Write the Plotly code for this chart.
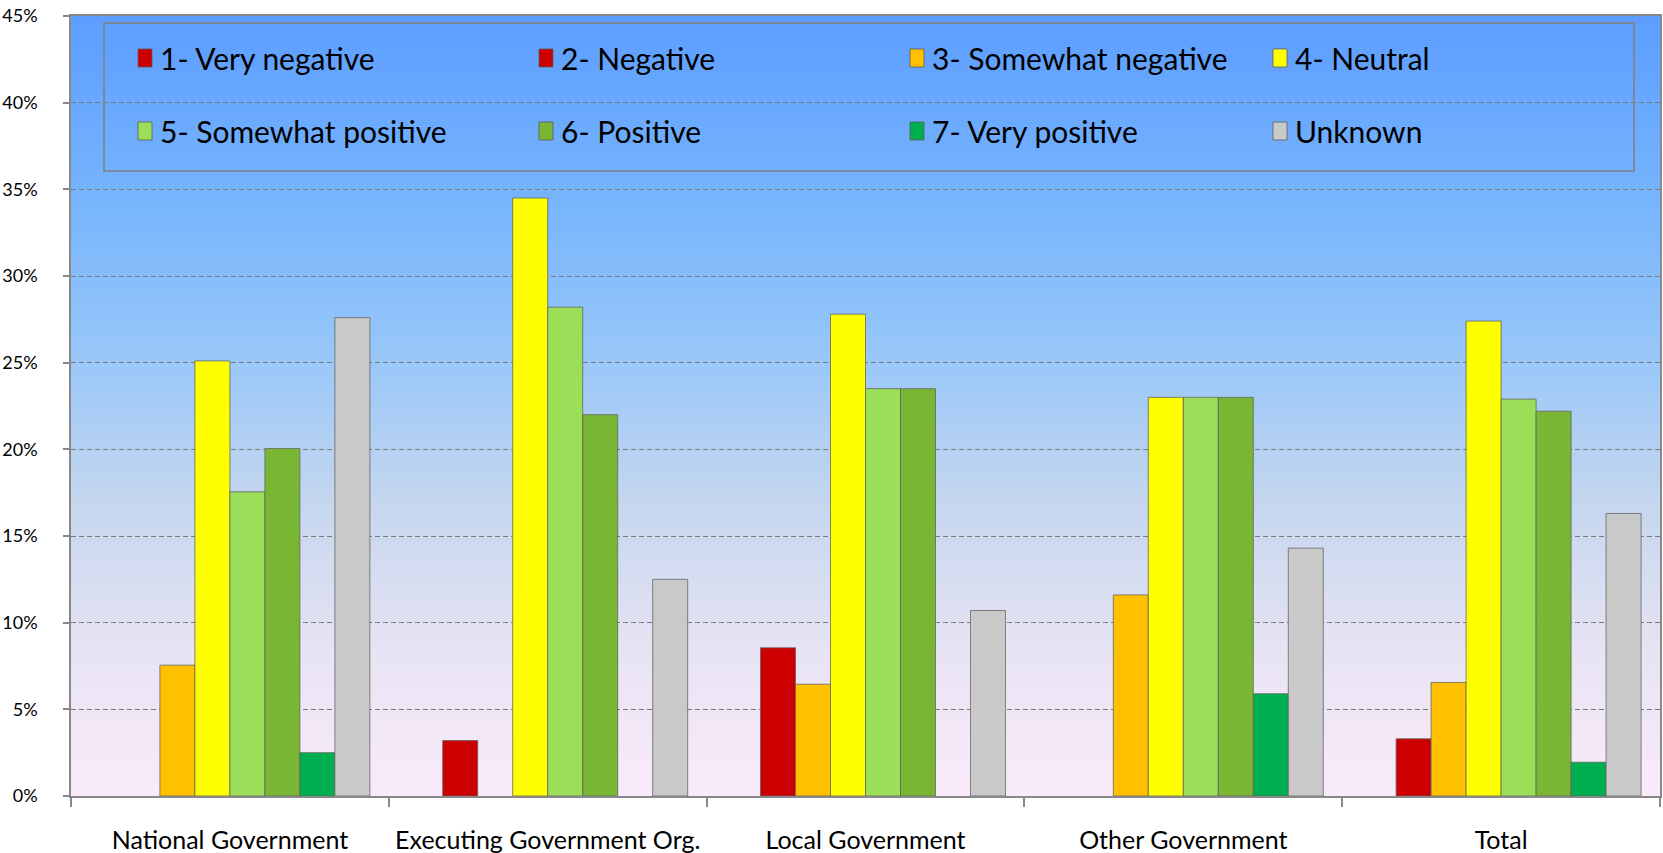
import plotly.graph_objects as go

# ---------------- data ----------------
categories = ["National Government", "Executing Government Org.", "Local Government",
              "Other Government", "Total"]
series_names = ["1- Very negative", "2- Negative", "3- Somewhat negative", "4- Neutral",
                "5- Somewhat positive", "6- Positive", "7- Very positive", "Unknown"]
very_negative = [0, 0, 0, 0, 0]
negative = [0, 3.2, 8.55, 0, 3.3]
somewhat_negative = [7.55, 0, 6.45, 11.6, 6.55]
neutral = [25.1, 34.5, 27.8, 23.0, 27.4]
somewhat_positive = [17.55, 28.2, 23.5, 23.0, 22.9]
positive = [20.05, 22.0, 23.5, 23.0, 22.2]
very_positive = [2.5, 0, 0, 5.9, 1.95]
unknown = [27.6, 12.5, 10.7, 14.3, 16.3]
series_values = [very_negative, negative, somewhat_negative, neutral,
                 somewhat_positive, positive, very_positive, unknown]
tick_values = [0, 0.05, 0.10, 0.15, 0.20, 0.25, 0.30, 0.35, 0.40, 0.45]

# ---------------- style ----------------
colors = ["#CC0000", "#CC0000", "#FFC000", "#FFFF00", "#9BDE57", "#79B634", "#00B050", "#C9C9C9"]
FONT = "Lato, Calibri, Arial, sans-serif"
W, H = 1663, 853
ML, MR, MT, MB = 71, 3, 16, 57
PW = W - ML - MR
PH = H - MT - MB


def px_x(px):
    return (px - ML) / PW


def px_y(py):
    return (H - MB - py) / PH


fig = go.Figure()
for name, vals, col in zip(series_names, series_values, colors):
    fig.add_trace(go.Bar(
        name=name,
        x=categories,
        y=[v / 100 if v else None for v in vals],
        marker=dict(color=col, line=dict(color="rgba(95,95,95,0.75)", width=1)),
        showlegend=False,
        hovertemplate="%{x}<br>" + name + ": %{y:.1%}<extra></extra>",
    ))

shapes = []
# gradient plot background
stops = [(0.0, (250, 234, 250)), (0.18, (232, 228, 244)), (0.38, (196, 214, 238)),
         (0.55, (155, 200, 248)), (0.75, (120, 182, 253)), (1.0, (92, 157, 255))]


def interp(t):
    for (t0, c0), (t1, c1) in zip(stops[:-1], stops[1:]):
        if t0 <= t <= t1:
            f = (t - t0) / (t1 - t0)
            return tuple(round(a + (b - a) * f) for a, b in zip(c0, c1))
    return stops[-1][1]


N = 156
for i in range(N):
    y0 = i / N
    y1 = (i + 1) / N
    c = interp((y0 + y1) / 2)
    shapes.append(dict(type="rect", xref="paper", yref="paper", x0=0, x1=1, y0=y0, y1=min(1, y1 + 0.002),
                       fillcolor="rgb(%d,%d,%d)" % c, line=dict(width=0), layer="below"))

# legend box
shapes.append(dict(type="rect", xref="paper", yref="paper",
                   x0=px_x(104), x1=px_x(1634), y0=px_y(171), y1=px_y(23),
                   line=dict(color="#7F7F7F", width=1.5), fillcolor="rgba(0,0,0,0)", layer="above"))

annotations = []
col_left = [138, 539, 910, 1273]
row_center = [58, 131]
for i, (name, col) in enumerate(zip(series_names, colors)):
    r, c = divmod(i, 4)
    lx = col_left[c]
    cy = row_center[r]
    shapes.append(dict(type="rect", xref="paper", yref="paper",
                       x0=px_x(lx), x1=px_x(lx + 14), y0=px_y(cy + 9), y1=px_y(cy - 9),
                       fillcolor=col, line=dict(color="rgba(90,90,90,0.8)", width=1), layer="above"))
    annotations.append(dict(xref="paper", yref="paper", x=px_x(lx + 20), y=px_y(cy),
                            xanchor="left", yanchor="middle", text=name, showarrow=False,
                            font=dict(family=FONT, size=30, color="#000000")))

fig.update_layout(
    width=W, height=H,
    margin=dict(l=ML, r=MR, t=MT, b=MB, pad=0, autoexpand=False),
    paper_bgcolor="white",
    plot_bgcolor="rgba(0,0,0,0)",
    barmode="group",
    bargap=0.119,
    bargroupgap=0,
    showlegend=False,
    shapes=shapes,
    annotations=annotations,
    font=dict(family=FONT, color="#000000"),
    xaxis=dict(
        showline=True, linecolor="#888888", linewidth=1.5, mirror=True,
        ticks="outside", tickson="boundaries", ticklen=9, tickcolor="#888888", tickwidth=1.5,
        tickfont=dict(family=FONT, size=25, color="#000000"),
        ticklabelstandoff=21, showgrid=False, automargin=False,
    ),
    yaxis=dict(
        range=[0, 0.45], tickvals=tick_values, tickformat=".0%",
        showline=True, linecolor="#888888", linewidth=1.5, mirror=True,
        ticks="outside", ticklen=6, tickcolor="#888888", tickwidth=1.5,
        tickfont=dict(family=FONT, size=18, color="#000000"),
        ticklabelstandoff=22, automargin=False,
        showgrid=True, gridcolor="#7A7A7A", gridwidth=1, griddash="5px,3px",
        zeroline=False,
    ),
)

fig.write_html("out.html", config={"displayModeBar": False},
               post_script="document.body.style.margin='0';document.body.style.overflow='hidden';")
